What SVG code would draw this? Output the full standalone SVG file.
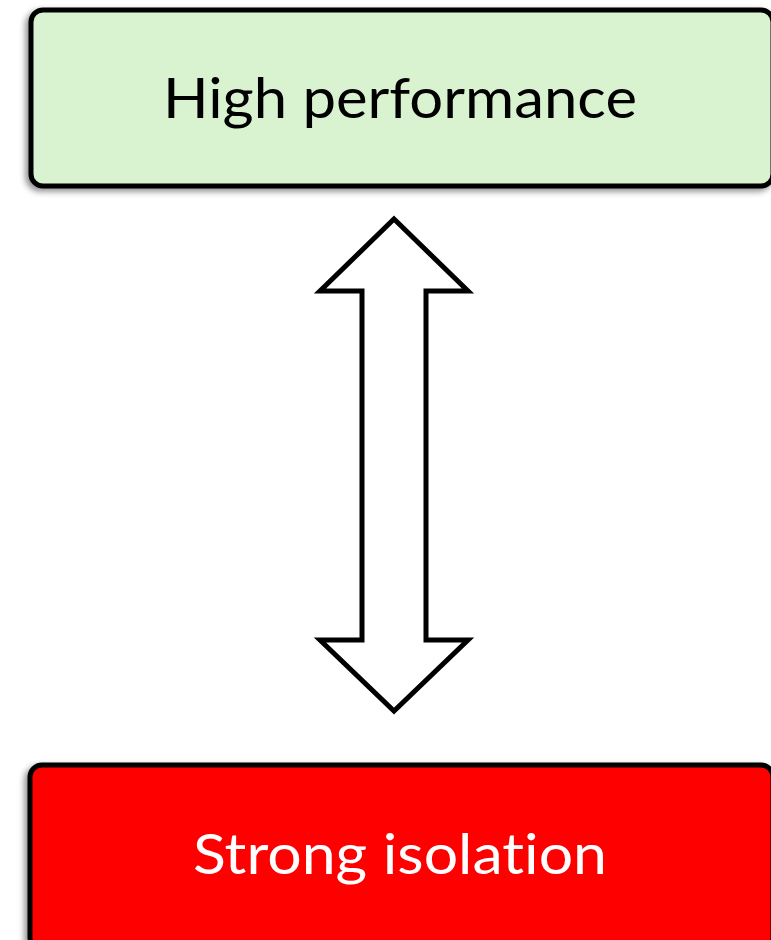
<svg xmlns="http://www.w3.org/2000/svg" width="771" height="940" viewBox="0 0 771 940">
  <style>
    .box { stroke: #000; stroke-width: 5; }
    .label { font-family: "Lato", "Open Sans", "Liberation Sans", sans-serif; font-size: 56px; text-anchor: middle; font-variant-ligatures: none; font-feature-settings: "liga" 0; }
  </style>
  <defs>
    <filter id="shadow" x="-10%" y="-10%" width="120%" height="130%">
      <feGaussianBlur in="SourceAlpha" stdDeviation="3"/>
      <feOffset dx="-3" dy="3" result="b"/>
      <feComponentTransfer><feFuncA type="linear" slope="0.45"/></feComponentTransfer>
      <feMerge><feMergeNode/><feMergeNode in="SourceGraphic"/></feMerge>
    </filter>
  </defs>
  <rect width="771" height="940" fill="#fff"/>

  <g id="high-performance">
    <rect class="box" x="31" y="10" width="742" height="176" rx="12" fill="#d9f2d0" filter="url(#shadow)"/>
    <text class="label" x="400" y="118" fill="#000" textLength="474" lengthAdjust="spacingAndGlyphs">High performance</text>
  </g>

  <g id="strong-isolation">
    <rect class="box" x="30" y="765" width="743" height="185" rx="12" fill="#ff0000" filter="url(#shadow)"/>
    <text class="label" x="400" y="874" fill="#fff" textLength="414" lengthAdjust="spacingAndGlyphs">Strong isolation</text>
  </g>

  <g id="connectors">
    <path d="M394,219 L468,291 L426,291 L426,640 L468,640 L394,711 L320,640 L362,640 L362,291 L320,291 Z" fill="#fff" stroke="#000" stroke-width="5" stroke-linejoin="miter"/>
  </g>
</svg>
